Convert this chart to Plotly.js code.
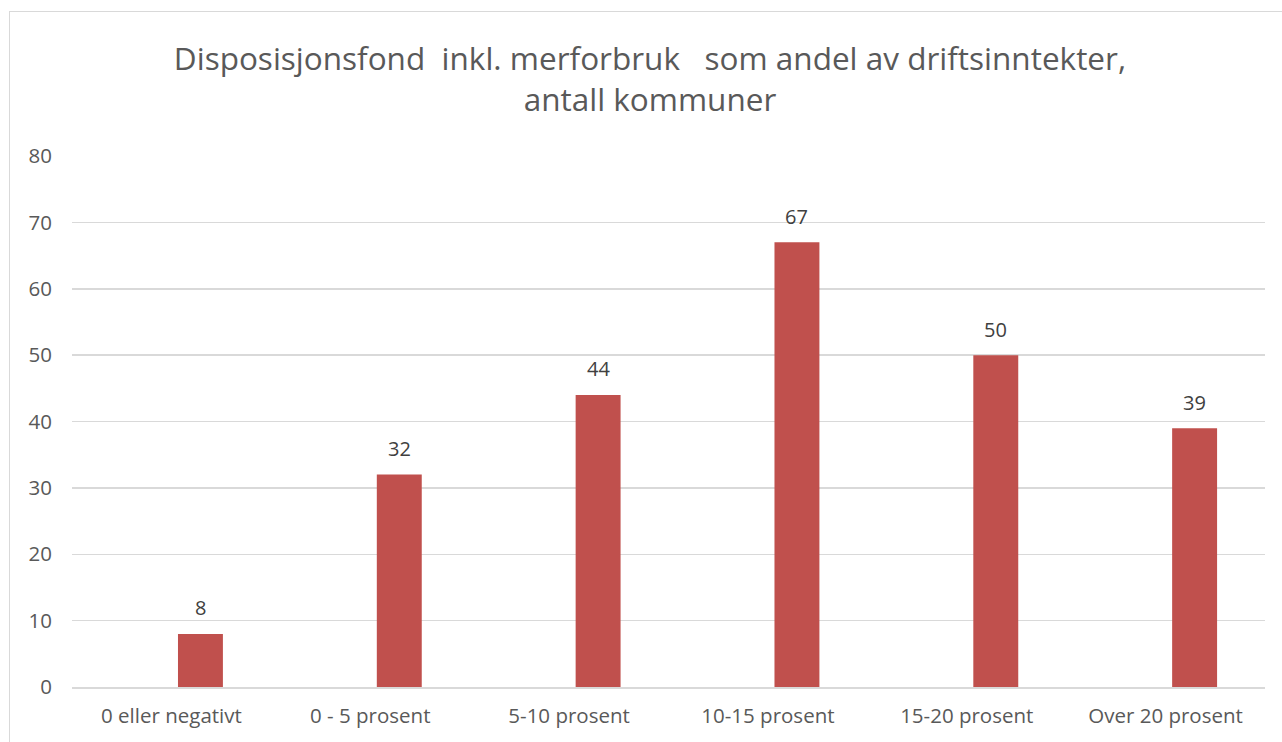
<!DOCTYPE html>
<html>
<head>
<meta charset="utf-8">
<script src="https://cdn.plot.ly/plotly-3.0.1.min.js"></script>
<style>
  html, body { margin: 0; padding: 0; background: #fff; overflow: hidden; }
  #frame { position: absolute; left: 9px; top: 11px; width: 1290px; height: 760px; border: 1.5px solid #d9d9d9; box-sizing: border-box; pointer-events: none; z-index: 5; }
  #chart { position: absolute; left: 0; top: 0; width: 1282px; height: 742px; }
</style>
</head>
<body>
<div id="chart"></div>
<div id="frame"></div>
<script>
const categories = ["0 eller negativt", "0 - 5 prosent", "5-10 prosent", "10-15 prosent", "15-20 prosent", "Over 20 prosent"];
const values = [8, 32, 44, 67, 50, 39];
const yTicks = [0, 10, 20, 30, 40, 50, 60, 70, 80];

const FONT = "'Open Sans', 'Noto Sans', sans-serif";

const trace = {
  type: "bar",
  x: categories,
  y: values,
  width: 0.226,
  offset: 0.033,
  marker: { color: "#C0504D" },
  hoverinfo: "none"
};

const annotations = categories.map((c, i) => ({
  x: c,
  y: values[i],
  xref: "x",
  yref: "y",
  text: String(values[i]),
  showarrow: false,
  xshift: 29,
  yshift: 26,
  font: { family: FONT, size: 20, color: "#404040" }
}));

const layout = {
  width: 1282,
  height: 742,
  margin: { l: 72, r: 17, t: 156, b: 55 },
  paper_bgcolor: "#ffffff",
  plot_bgcolor: "#ffffff",
  showlegend: false,
  annotations: annotations,
  title: {
    text: "Disposisjonsfond  inkl. merforbruk   som andel av driftsinntekter,<br>antall kommuner",
    font: { family: FONT, size: 31.5, color: "#595959" },
    x: 0.507, xanchor: "center",
    y: 0.906, yanchor: "middle"
  },
  xaxis: {
    type: "category",
    showgrid: false,
    showline: true,
    linecolor: "#d9d9d9",
    linewidth: 1.5,
    ticks: "",
    tickfont: { family: FONT, size: 20.5, color: "#595959" },
    ticklabelstandoff: 10
  },
  yaxis: {
    range: [0, 80],
    tickvals: yTicks,
    ticktext: yTicks.map(String),
    showgrid: true,
    gridcolor: "#d9d9d9",
    gridwidth: 1.5,
    zeroline: false,
    showline: false,
    ticks: "",
    tickfont: { family: FONT, size: 20.5, color: "#595959" },
    ticklabelstandoff: 19
  },
  font: { family: FONT }
};

Plotly.newPlot("chart", [trace], layout, { displayModeBar: false, staticPlot: true });
</script>
</body>
</html>
